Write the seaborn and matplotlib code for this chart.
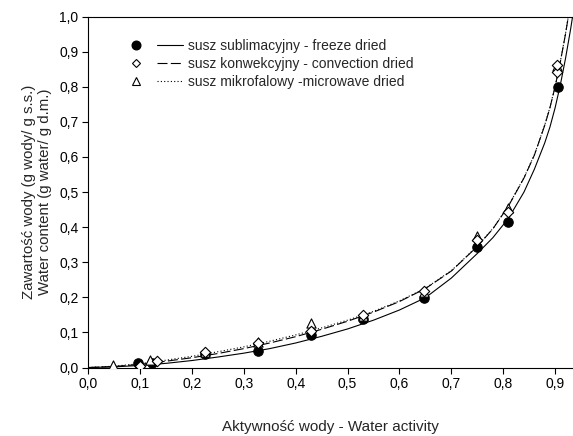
import numpy as np
import pandas as pd
import matplotlib
matplotlib.use('Agg')
import matplotlib.pyplot as plt
import seaborn as sns
from matplotlib.lines import Line2D
from matplotlib.legend_handler import HandlerTuple
from matplotlib.ticker import FuncFormatter

# measured points (water activity, water content)
freeze_aw = [0.096, 0.122, 0.225, 0.328, 0.43, 0.53, 0.648, 0.75, 0.81, 0.905]
freeze_wc = [0.012, 0.014, 0.038, 0.048, 0.093, 0.138, 0.198, 0.343, 0.414, 0.80]

conv_aw = [0.099, 0.133, 0.225, 0.328, 0.43, 0.53, 0.648, 0.75, 0.81, 0.903, 0.903]
conv_wc = [0.003, 0.02, 0.043, 0.07, 0.103, 0.15, 0.218, 0.364, 0.442, 0.843, 0.862]

micro_aw = [0.048, 0.12, 0.225, 0.328, 0.43, 0.53, 0.648, 0.75, 0.81, 0.903]
micro_wc = [0.008, 0.022, 0.045, 0.072, 0.127, 0.148, 0.215, 0.375, 0.455, 0.86]

# fitted curves
fit_aw = [0, .05, .1, .15, .2, .25, .3, .35, .4, .45, .5, .55, .6, .65, .7, .75,
          .78, .81, .84, .86, .88, .89, .9, .91, .92, .93, .94]
freeze_fit = [0, .002, .006, .012, .02, .03, .041, .054, .07, .089, .11, .135, .164, .199,
              .255, .325, .37, .425, .5, .565, .64, .685, .74, .805, .88, .965, 1.06]
conv_fit = [0, .003, .009, .018, .028, .04, .054, .07, .088, .109, .132, .158, .188, .225,
            .275, .345, .395, .46, .54, .605, .69, .74, .80, .87, .95, 1.04, 1.15]
micro_fit = [0, .004, .011, .021, .032, .045, .059, .075, .093, .113, .135, .16, .19, .226,
             .276, .346, .396, .461, .541, .606, .691, .741, .801, .871, .951, 1.041, 1.151]

sns.set_style('white')
plt.rcParams['font.family'] = ['Liberation Sans', 'DejaVu Sans']

fig = plt.figure(figsize=(5.73, 4.36), dpi=100)
ax = fig.add_axes([0.154, 0.157, 0.846, 0.805])

lw = 0.8
sns.lineplot(x=fit_aw, y=freeze_fit, ax=ax, color='black', linewidth=lw, linestyle='-')
sns.lineplot(x=fit_aw, y=conv_fit, ax=ax, color='black', linewidth=lw, dashes=False,
             linestyle=(0, (9, 3)))
sns.lineplot(x=fit_aw, y=micro_fit, ax=ax, color='black', linewidth=lw, linestyle=(0, (1, 2)))

sns.scatterplot(x=freeze_aw, y=freeze_wc, ax=ax, marker='o', s=46, color='black',
                edgecolor='black', linewidth=0.8, zorder=3)
sns.scatterplot(x=micro_aw, y=micro_wc, ax=ax, marker='^', s=44, color='white',
                edgecolor='black', linewidth=0.8, zorder=4)
sns.scatterplot(x=conv_aw, y=conv_wc, ax=ax, marker='D', s=28, color='white',
                edgecolor='black', linewidth=0.8, zorder=5)

ax.set_xlim(0, 0.9345)
ax.set_ylim(0, 1.0)
ax.set_xticks(np.arange(0, 0.91, 0.1))
ax.set_yticks(np.arange(0, 1.01, 0.1))
fmt = FuncFormatter(lambda v, p: f'{v:.1f}'.replace('.', ','))
ax.xaxis.set_major_formatter(fmt)
ax.yaxis.set_major_formatter(fmt)
ax.tick_params(direction='out', length=4, width=0.8, labelsize=10, colors='black',
               bottom=True, left=True, pad=3)

for side in ['left', 'bottom', 'top']:
    ax.spines[side].set_color('black')
    ax.spines[side].set_linewidth(0.8)
ax.spines['right'].set_visible(False)

ax.set_xlabel('Aktywność wody - Water activity', fontsize=11, labelpad=21)
ax.set_ylabel('Zawartość wody (g wody/ g s.s.)\nWater content (g water/ g d.m.)', fontsize=10.8,
              labelpad=5)

h1 = (Line2D([], [], marker='o', color='black', linestyle='None', markersize=6.2),
      Line2D([], [], color='black', linewidth=lw))
h2 = (Line2D([], [], marker='D', color='black', markerfacecolor='white', linestyle='None',
             markersize=4.5, markeredgewidth=0.8),
      Line2D([], [], color='black', linewidth=lw, linestyle=(0, (9, 3))))
h3 = (Line2D([], [], marker='^', color='black', markerfacecolor='white', linestyle='None',
             markersize=5.5, markeredgewidth=0.8),
      Line2D([], [], color='black', linewidth=lw, linestyle=(0, (1, 2))))
ax.legend([h1, h2, h3],
          ['susz sublimacyjny - freeze dried', 'susz konwekcyjny - convection dried',
           'susz mikrofalowy -microwave dried'],
          handler_map={tuple: HandlerTuple(ndivide=None, pad=0.6)},
          loc='upper left', bbox_to_anchor=(0.06, 0.952), frameon=False, fontsize=10,
          handlelength=4.3, handletextpad=0.4, labelspacing=0.3, borderaxespad=0)

fig.savefig('out.png', dpi=100)
